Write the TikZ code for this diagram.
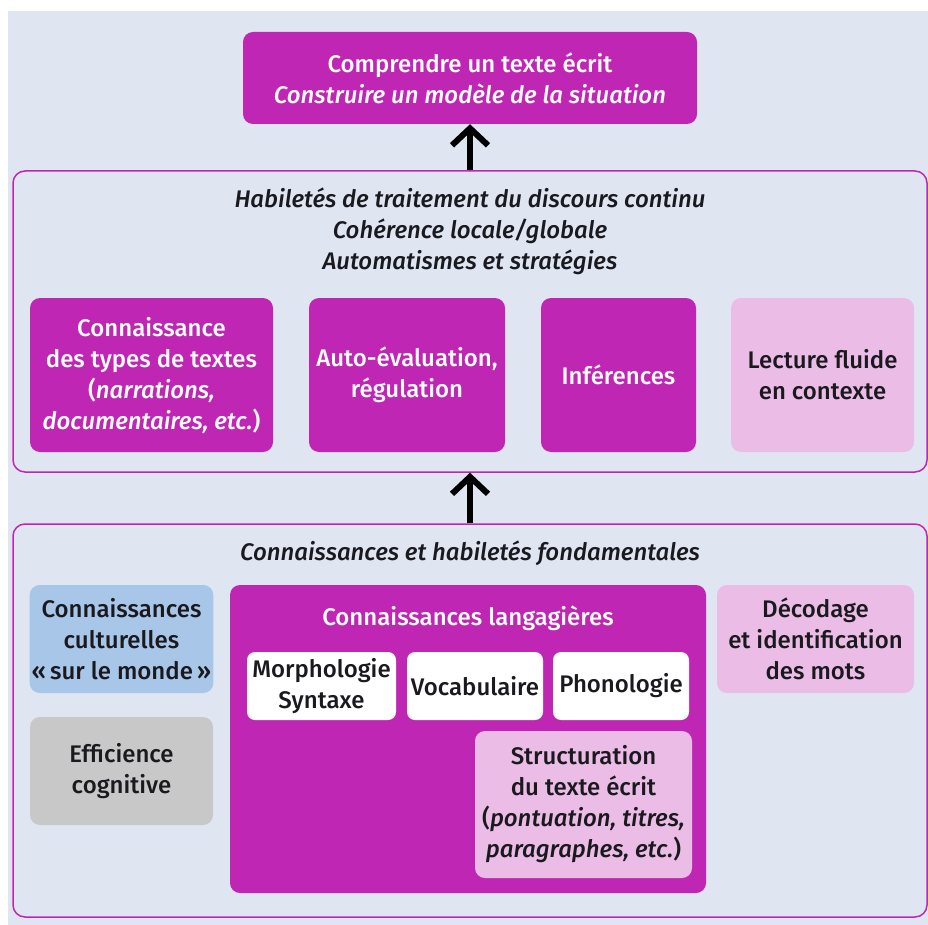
\documentclass[tikz,border=0pt]{standalone}
\usepackage{fontspec}
\setmainfont{Fira Sans}[UprightFont={* Medium}, ItalicFont={* Medium Italic}]
\usetikzlibrary{arrows.meta,positioning}
\definecolor{mauve}{RGB}{192,38,180}
\definecolor{rose}{RGB}{235,188,230}
\definecolor{ciel}{RGB}{168,198,232}
\definecolor{gris}{RGB}{200,200,200}
\definecolor{fond}{RGB}{223,230,241}
\definecolor{encre}{RGB}{25,25,30}
\tikzset{
  basic/.style   = {rectangle, rounded corners=10pt, align=center, inner sep=2pt,
                    font=\fontsize{24}{31}\selectfont, text=encre},
  fort/.style    = {basic, fill=mauve, text=white},
  pale/.style    = {basic, fill=rose},
  blanc/.style   = {basic, fill=white, rounded corners=8pt},
  cadre/.style   = {draw=mauve, line width=1.5pt, rounded corners=12pt},
  legende/.style = {align=center, text=encre, font=\fontsize{24}{31}\selectfont\itshape},
  fleche/.style  = {-{Straight Barb[length=17pt,width=36pt]}, line width=6pt}
}

\begin{document}
\begin{tikzpicture}[x=1pt,y=1pt]
\useasboundingbox (0,0) rectangle (928,-925);
\fill[fond] (8,-11) rectangle (928,-925);

% niveau superieur
\node[fort, minimum width=454pt, minimum height=92pt] (top) at (470,-78)
  {Comprendre un texte écrit\\ \itshape Construire un modèle de la situation};

% traitement du discours
\node[cadre, minimum width=914pt, minimum height=301pt] (mid) at (470,-321.5) {};
\node[legende] (midt) at (470,-231) {Habiletés de traitement du discours continu\\
  Cohérence locale/globale\\ Automatismes et stratégies};
\begin{scope}[every node/.style={minimum height=154pt}]
\node[fort, minimum width=243pt] (c1) at (151.5,-375)
  {Connaissance\\ des types de textes\\ (\textit{narrations,}\\ \textit{documentaires, etc.})};
\node[fort, minimum width=196pt] (c2) at (407,-375) {Auto-évaluation,\\ régulation};
\node[fort, minimum width=155pt] (c3) at (618.5,-375) {Inférences};
\node[pale, minimum width=183pt] (c4) at (822.5,-375) {Lecture fluide\\ en contexte};
\end{scope}

% connaissances fondamentales
\node[cadre, minimum width=914pt, minimum height=393pt] (bas) at (470,-720.5) {};
\node[legende] (bast) at (470,-553) {Connaissances et habiletés fondamentales};
\node[basic, fill=ciel, minimum width=183pt, minimum height=108pt] (cult) at (121.5,-639)
  {Connaissances\\ culturelles\\ «\,sur le monde\,»};
\node[basic, fill=gris, minimum width=183pt, minimum height=108pt] (eff) at (121.5,-771)
  {Efficience\\ cognitive};
\node[pale, minimum width=197pt, minimum height=108pt] (deco) at (815.5,-639)
  {Décodage\\ et identification\\ des mots};

% bloc langagier
\node[fort, minimum width=476pt, minimum height=308pt] (lang) at (468,-739) {};
\node[text=white, font=\fontsize{24}{31}\selectfont] (langt) at (468,-618) {Connaissances langagières};
\begin{scope}[every node/.style={minimum height=68pt}]
\node[blanc, minimum width=149pt] (l1) at (321.5,-686) {Morphologie\\ Syntaxe};
\node[blanc, minimum width=136pt] (l2) at (475,-686) {Vocabulaire};
\node[blanc, minimum width=136pt] (l3) at (621,-686) {Phonologie};
\end{scope}
\node[pale, minimum width=217pt, minimum height=147pt] (l4) at (583.5,-804.5)
  {Structuration\\ du texte écrit\\ (\textit{pontuation, titres,}\\ \textit{paragraphes, etc.})};

\draw[fleche] (mid.north) -- (top.south);
\draw[fleche] (bas.north) -- (mid.south);
\end{tikzpicture}
\end{document}
